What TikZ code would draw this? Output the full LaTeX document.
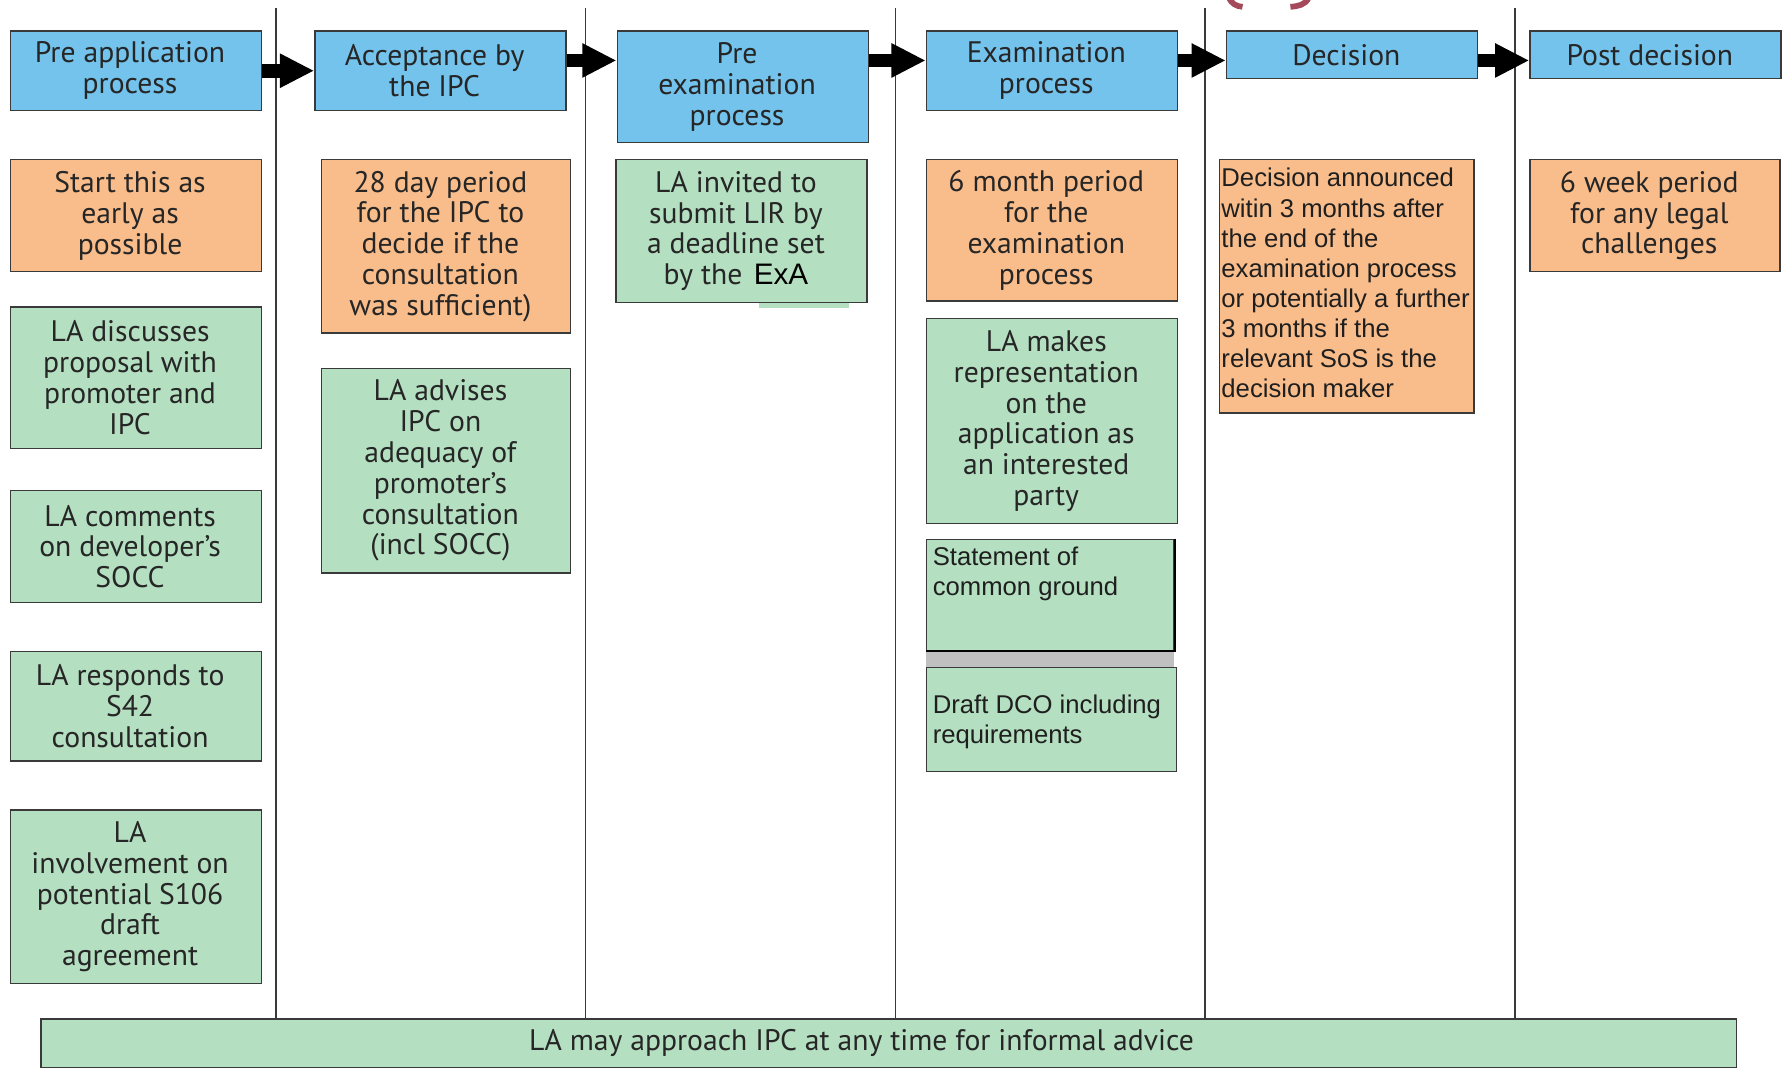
\documentclass[tikz,border=0pt]{standalone}
\usepackage{fontspec}
\setmainfont{PT Sans}
\newfontfamily\arialfont{Liberation Sans}
\usetikzlibrary{arrows.meta}
\definecolor{hblue}{HTML}{74C3EC}
\definecolor{borange}{HTML}{F9BD8B}
\definecolor{bgreen}{HTML}{B4DFC0}
\definecolor{bline}{HTML}{3A3A3A}
\definecolor{btext}{HTML}{262626}
\definecolor{arcred}{HTML}{A54A5A}
\definecolor{stripgrey}{HTML}{C0C0C0}
\newcommand{\mainsz}{\fontsize{26}{27}\selectfont}
\newcommand{\arialsz}{\arialfont\fontsize{22.5}{26.4}\selectfont}
\begin{document}
\begin{tikzpicture}[x=1pt,y=-1pt,
  box/.style={draw=bline, line width=1.3pt, inner sep=2pt, align=center, text=btext, font=\mainsz},
  lbl/.style={align=center, text=btext, font=\mainsz, inner sep=0pt, xshift=-5pt},
  txt/.style={label={[lbl]center:{#1}}},
  hdr/.style={box, fill=hblue},
  obox/.style={box, fill=borange},
  gbox/.style={box, fill=bgreen},
  arialtxt/.style={font=\arialsz, text=black!88, align=left, inner sep=0pt},
  bigarrow/.style={line width=12pt, draw=black, -{Triangle[length=30pt,width=28pt]}},
  vline/.style={draw=bline, line width=1.3pt},
  redarc/.style={draw=arcred, line width=5pt}
]
\useasboundingbox (0,0) rectangle (1568,936);
\fill[white] (0,0) rectangle (1568,936);

% bottom bar
\node[gbox, minimum width=1486pt, minimum height=43pt] (bar) at (779,914.5)
  {\hspace*{-48pt}LA may approach IPC at any time for informal advice};

% vertical separators
\foreach \xx in {242,513,785,1056,1328}
  \draw[vline] (\xx,7) -- (\xx,7 |- bar.north);

% red arcs at the top
\draw[redarc] (1077,-2) to[out=-65,in=175] (1089,6);
\draw[redarc] (1147,-2) to[out=-115,in=5] (1131,6);

% headers
\node[hdr, minimum width=220pt, minimum height=70pt, txt={Pre application\\process}] (h1) at (119,62) {};
\node[hdr, minimum width=220pt, minimum height=70pt, txt={Acceptance by\\the IPC}] (h2) at (386,62) {};
\node[hdr, minimum width=220pt, minimum height=98pt, txt={Pre\\examination\\process}] (h3) at (651,76) {};
\node[hdr, minimum width=220pt, minimum height=70pt, txt={Examination\\process}] (h4) at (922,62) {};
\node[hdr, minimum width=220pt, minimum height=42pt, txt={Decision}] (h5) at (1185,48) {};
\node[hdr, minimum width=220pt, minimum height=42pt, txt={Post decision}] (h6) at (1451,48) {};

% arrows
\draw[bigarrow] (h1.east) -- (h2.west);
\draw[bigarrow] ([yshift=9pt]h2.east) -- ([yshift=9pt]h2.east -| h3.west);
\draw[bigarrow] ([yshift=23pt]h3.east) -- ([yshift=23pt]h3.east -| h4.west);
\draw[bigarrow] ([yshift=9pt]h4.east) -- ([yshift=9pt]h4.east -| h5.west);
\draw[bigarrow] ([yshift=-5pt]h5.east) -- ([yshift=-5pt]h5.east -| h6.west);

% column 1
\node[obox, minimum width=220pt, minimum height=98pt, txt={Start this as\\early as\\possible}] (o1) at (119,189) {};
\node[gbox, minimum width=220pt, minimum height=124pt, txt={LA discusses\\proposal with\\promoter and\\IPC}] (g1) at (119,331) {};
\node[gbox, minimum width=220pt, minimum height=98pt, txt={LA comments\\on developer’s\\SOCC}] (g2) at (119,479) {};
\node[gbox, minimum width=220pt, minimum height=96pt, txt={LA responds to\\S42\\consultation}] (g3) at (119,619) {};
\node[gbox, minimum width=220pt, minimum height=152pt, txt={LA\\involvement on\\potential S106\\draft\\agreement}] (g4) at (119,786) {};

% column 2
\node[obox, minimum width=218pt, minimum height=152pt, txt={28 day period\\for the IPC to\\decide if the\\consultation\\was sufficient)}] (o2) at (391,216) {};
\node[gbox, minimum width=218pt, minimum height=179pt, txt={LA advises\\IPC on\\adequacy of\\promoter’s\\consultation\\(incl SOCC)}] (g5) at (391,412.5) {};

% column 3
\fill[bgreen] (665,262) rectangle (744,270);
\node[gbox, minimum width=220pt, minimum height=125pt, txt={LA invited to\\submit LIR by\\a deadline set\\by the \hspace{3pt}{\arialfont\fontsize{26}{27}\selectfont\color{black}ExA}}] (g6) at (650,202.5) {};

% column 4
\node[obox, minimum width=220pt, minimum height=124pt, txt={6 month period\\for the\\examination\\process}] (o3) at (922,202) {};
\node[gbox, minimum width=220pt, minimum height=180pt, txt={LA makes\\representation\\on the\\application as\\an interested\\party}] (g7) at (922,369) {};
\fill[stripgrey] (812,571) rectangle (1029,586);
\node[gbox, minimum width=217pt, minimum height=97pt] (g8) at (920.5,521.5) {};
\draw[black, line width=2.2pt] (g8.north east) -- (g8.south east) -- (g8.south west);
\node[arialtxt, anchor=north west] (g8t) at ([xshift=6pt,yshift=-7pt]g8.north west) {Statement of\\common ground};
\node[gbox, minimum width=219pt, minimum height=91pt] (g9) at (921.5,630.5) {};
\node[arialtxt, anchor=west] (g9t) at ([xshift=6pt,yshift=-2pt]g9.west) {Draft DCO including\\requirements};

% column 5
\node[obox, minimum width=223pt, minimum height=222pt] (o4) at (1180.5,251) {};
\node[arialtxt, anchor=north west] (o4t) at ([xshift=2pt,yshift=-8pt]o4.north west)
  {Decision announced\\witin 3 months after\\the end of the\\examination process\\or potentially a further\\3 months if the\\relevant SoS is the\\decision maker};

% column 6
\node[obox, minimum width=219pt, minimum height=98pt, txt={6 week period\\for any legal\\challenges}] (o5) at (1450.5,189) {};
\end{tikzpicture}
\end{document}
